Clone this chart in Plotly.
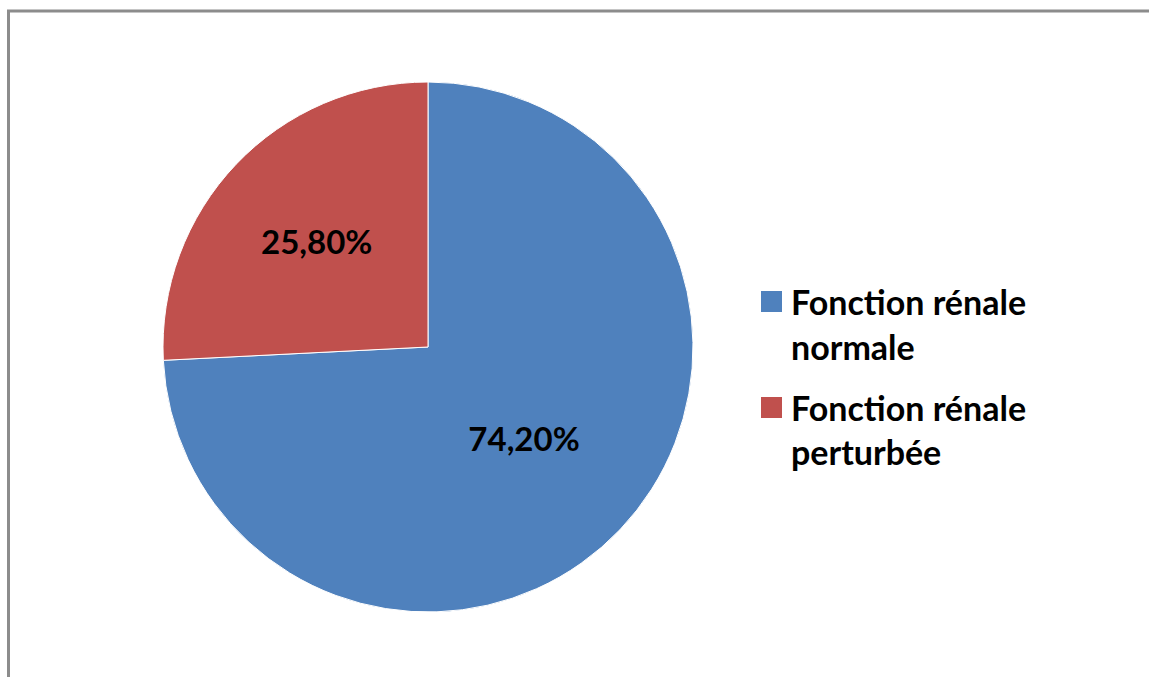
import plotly.graph_objects as go

labels = ["Fonction rénale normale", "Fonction rénale perturbée"]
legend_lines = [["Fonction rénale", "normale"], ["Fonction rénale", "perturbée"]]
values = [74.2, 25.8]
value_text = ["74,20%", "25,80%"]
colors = ["#4F81BD", "#C0504D"]

W, H = 1149, 677

def px_x(x):
    return x / W

def px_y(y):
    return 1 - y / H

fig = go.Figure()
fig.add_trace(go.Pie(
    labels=labels,
    values=values,
    text=value_text,
    textinfo="text",
    textposition="inside",
    insidetextorientation="horizontal",
    sort=False,
    direction="clockwise",
    rotation=0,
    marker=dict(colors=colors, line=dict(color="white", width=1)),
    textfont=dict(family="Lato", size=33, color="black", weight="bold"),
    domain=dict(x=[px_x(163), px_x(693)], y=[px_y(612), px_y(82)]),
    showlegend=False,
    hoverinfo="label+percent",
))

shapes = [
    dict(type="line", xref="paper", yref="paper", x0=px_x(8.5), x1=px_x(8.5), y0=px_y(11), y1=px_y(700),
         line=dict(color="#8c8c8c", width=3)),
    dict(type="line", xref="paper", yref="paper", x0=px_x(7), x1=px_x(1160), y0=px_y(11), y1=px_y(11),
         line=dict(color="#8c8c8c", width=3)),
]
annotations = []
item_top = [291, 397]
for i, lines in enumerate(legend_lines):
    top = item_top[i]
    shapes.append(dict(type="rect", xref="paper", yref="paper",
                       x0=px_x(761), x1=px_x(782), y0=px_y(top), y1=px_y(top + 21),
                       fillcolor=colors[i], line=dict(width=0)))
    for j, ln in enumerate(lines):
        annotations.append(dict(
            xref="paper", yref="paper", x=px_x(789), y=px_y(top + 10 + j * 45),
            xanchor="left", yanchor="middle", showarrow=False, text=ln,
            font=dict(family="Lato", size=34, color="black", weight="bold"),
        ))

fig.update_layout(
    width=W, height=H,
    margin=dict(l=0, r=0, t=0, b=0),
    paper_bgcolor="white",
    plot_bgcolor="white",
    shapes=shapes,
    annotations=annotations,
)

fig.write_html("out.html")
